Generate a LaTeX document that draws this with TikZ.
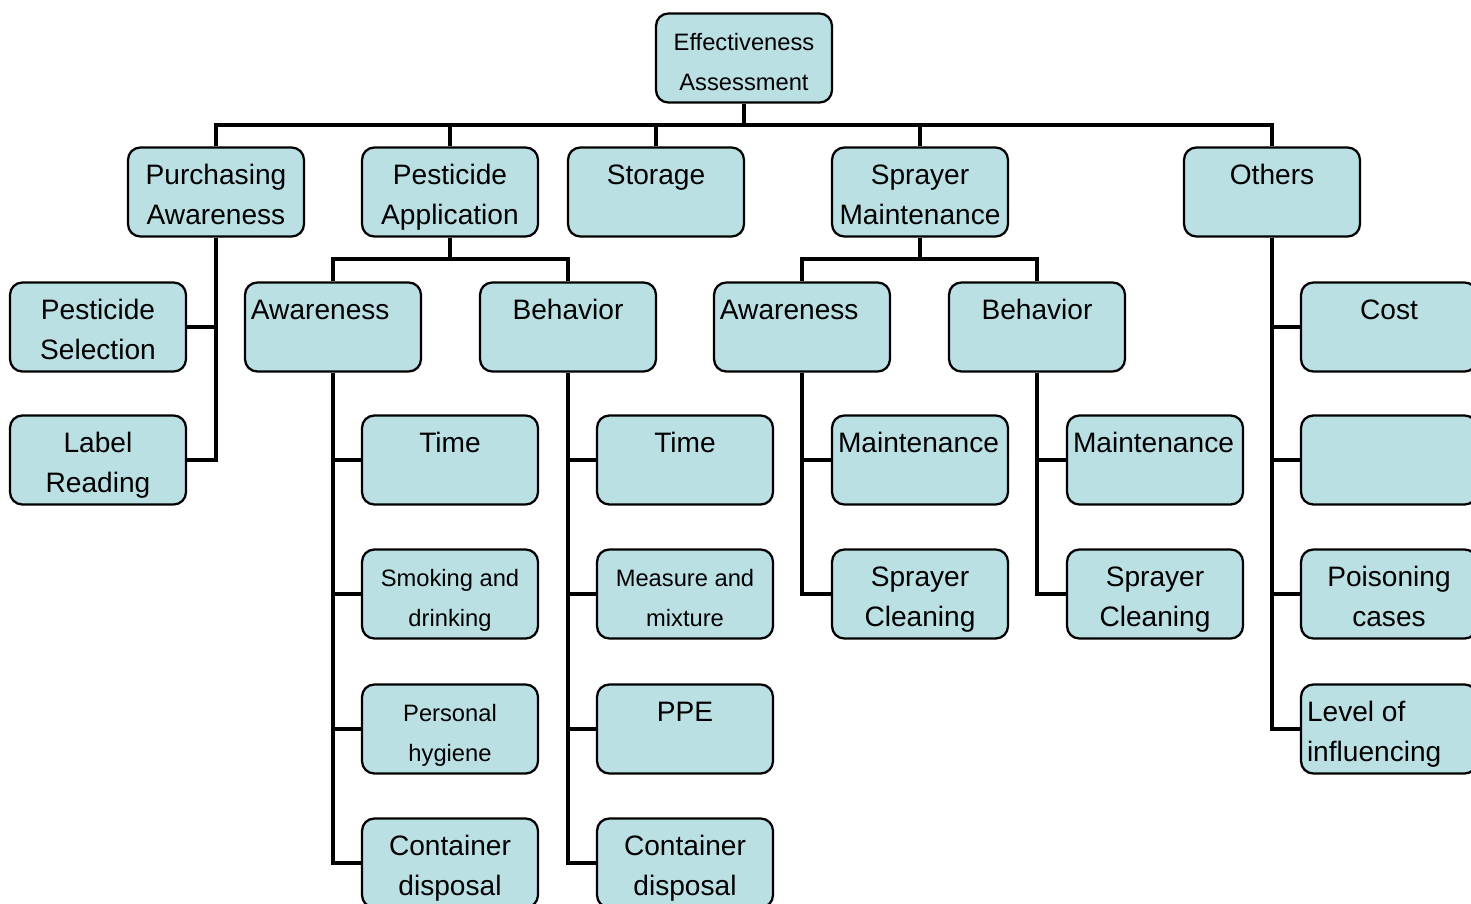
\documentclass[tikz,border=0pt]{standalone}
\usepackage{fontspec}
\setmainfont{Liberation Sans}
\usepackage{xcolor}
\usepackage{tikz}
\definecolor{boxfill}{RGB}{186,224,228}
\newcommand{\boxW}{3.52cm}
\newcommand{\boxH}{1.78cm}
\newcommand{\bigtxt}{\fontsize{16}{23}\selectfont}
\newcommand{\smalltxt}{\fontsize{13.5}{23}\selectfont}
\newcommand{\boxtext}[2][\centering]{\parbox[c][\boxH][t]{\boxW}{#1\rule{0pt}{21pt}#2}}
\newcommand{\lefttext}[1]{\boxtext[\raggedright\leftskip=3.4pt]{#1}}

\begin{document}
\begin{tikzpicture}[x=0.02cm,y=-0.02cm,
	unit/.style={draw=black,line width=1.3pt,rounded corners=7pt,fill=boxfill,inner sep=0pt,font=\bigtxt},
	small/.style={unit,font=\smalltxt},
	link/.style={draw=black,line width=2.8pt}]
	\useasboundingbox (0,0) rectangle (1471,903);

	% top level
	\node[small] (EA) at (744,58) {\boxtext{Effectiveness\\Assessment}};
	\node[unit] (PUR) at (216,192) {\boxtext{Purchasing\\Awareness}};
	\node[unit] (APP) at (450,192) {\boxtext{Pesticide\\Application}};
	\node[unit] (STO) at (656,192) {\boxtext{Storage}};
	\node[unit] (SPM) at (920,192) {\boxtext{Sprayer\\Maintenance}};
	\node[unit] (OTH) at (1272,192) {\boxtext{Others}};

	% purchasing awareness
	\node[unit] (SEL) at (98,327) {\boxtext{Pesticide\\Selection}};
	\node[unit] (LAB) at (98,460) {\boxtext{Label\\Reading}};

	% pesticide application
	\node[unit] (APPAW) at (333,327) {\lefttext{Awareness}};
	\node[unit] (APPBE) at (568,327) {\boxtext{Behavior}};
	\node[unit] (AWTIME) at (450,460) {\boxtext{Time}};
	\node[small] (AWSMOK) at (450,594) {\boxtext{Smoking and\\drinking}};
	\node[small] (AWHYG) at (450,729) {\boxtext{Personal\\hygiene}};
	\node[unit] (AWCONT) at (450,863) {\boxtext{Container\\disposal}};
	\node[unit] (BETIME) at (685,460) {\boxtext{Time}};
	\node[small] (BEMIX) at (685,594) {\boxtext{Measure and\\mixture}};
	\node[unit] (BEPPE) at (685,729) {\boxtext{PPE}};
	\node[unit] (BECONT) at (685,863) {\boxtext{Container\\disposal}};

	% sprayer maintenance
	\node[unit] (SPMAW) at (802,327) {\lefttext{Awareness}};
	\node[unit] (SPMBE) at (1037,327) {\boxtext{Behavior}};
	\node[unit] (SAWMNT) at (920,460) {\lefttext{Maintenance}};
	\node[unit] (SAWCLN) at (920,594) {\boxtext{Sprayer\\Cleaning}};
	\node[unit] (SBEMNT) at (1155,460) {\lefttext{Maintenance}};
	\node[unit] (SBECLN) at (1155,594) {\boxtext{Sprayer\\Cleaning}};

	% others
	\node[unit] (COST) at (1389,327) {\boxtext{Cost}};
	\node[unit] (BLANK) at (1389,460) {\boxtext{}};
	\node[unit] (POIS) at (1389,594) {\boxtext{Poisoning\\cases}};
	\node[unit] (INFL) at (1389,729) {\lefttext{Level of\\influencing}};

	% buses
	\coordinate (TOPBUS) at (744,125);
	\coordinate (APPBUS) at (450,259);
	\coordinate (SPMBUS) at (920,259);

	\draw[link] (EA.south) -- (TOPBUS);
	\draw[link] (PUR.north) -- (PUR.north |- TOPBUS) -- (OTH.north |- TOPBUS) -- (OTH.north);
	\draw[link] (APP.north) -- (APP.north |- TOPBUS);
	\draw[link] (STO.north) -- (STO.north |- TOPBUS);
	\draw[link] (SPM.north) -- (SPM.north |- TOPBUS);

	\draw[link] (PUR.south) |- (SEL.east);
	\draw[link] (PUR.south) |- (LAB.east);

	\draw[link] (APP.south) -- (APPBUS);
	\draw[link] (APPAW.north) -- (APPAW.north |- APPBUS) -- (APPBE.north |- APPBUS) -- (APPBE.north);
	\draw[link] (SPM.south) -- (SPMBUS);
	\draw[link] (SPMAW.north) -- (SPMAW.north |- SPMBUS) -- (SPMBE.north |- SPMBUS) -- (SPMBE.north);

	\foreach \kid in {AWTIME,AWSMOK,AWHYG,AWCONT}
		\draw[link] (APPAW.south) |- (\kid.west);
	\foreach \kid in {BETIME,BEMIX,BEPPE,BECONT}
		\draw[link] (APPBE.south) |- (\kid.west);
	\foreach \kid in {SAWMNT,SAWCLN}
		\draw[link] (SPMAW.south) |- (\kid.west);
	\foreach \kid in {SBEMNT,SBECLN}
		\draw[link] (SPMBE.south) |- (\kid.west);
	\foreach \kid in {COST,BLANK,POIS,INFL}
		\draw[link] (OTH.south) |- (\kid.west);
\end{tikzpicture}
\end{document}
